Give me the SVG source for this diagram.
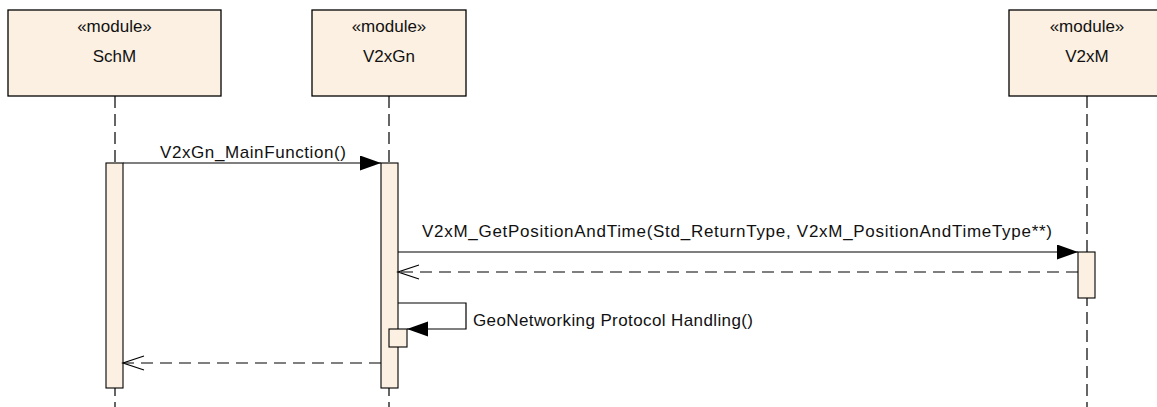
<svg xmlns="http://www.w3.org/2000/svg" width="1157" height="407" viewBox="0 0 1157 407">
<defs>
<style>
.box{fill:#FBF0E2;stroke:#000;stroke-width:1.3}
.act{fill:#FBF0E2;stroke:#000;stroke-width:1.1}
.life{stroke:#000;stroke-width:1.2;stroke-dasharray:12 6;fill:none}
.msg{stroke:#000;stroke-width:1.2;fill:none}
.ret{stroke:#000;stroke-width:1.2;fill:none;stroke-dasharray:12 7}
.t{font-family:"Liberation Sans",Arial,sans-serif;font-size:17px;fill:#111}
.c{text-anchor:middle}
</style>
<marker id="filled" markerWidth="22" markerHeight="16" refX="21" refY="7.5" orient="auto" markerUnits="userSpaceOnUse">
<path d="M0,0 L21,7.5 L0,15 Z" fill="#000"/>
</marker>
<marker id="open" markerWidth="24" markerHeight="18" refX="22" refY="8" orient="auto" markerUnits="userSpaceOnUse">
<path d="M1,1 L22,8 L1,15" fill="none" stroke="#000" stroke-width="1.2"/>
</marker>
</defs>
<rect width="1157" height="407" fill="#fff"/>

<g id="lifelines">
<line class="life" x1="115" y1="96" x2="115" y2="407"/>
<line class="life" x1="389" y1="96" x2="389" y2="407"/>
<line class="life" x1="1087" y1="96" x2="1087" y2="407"/>
</g>

<g id="SchM">
<rect class="box" x="8" y="10" width="213" height="86"/>
<text class="t c" x="114.5" y="32">«module»</text>
<text class="t c" x="114.5" y="62">SchM</text>
<rect class="act" x="106" y="163" width="17" height="225"/>
</g>

<g id="V2xGn">
<rect class="box" x="312" y="10" width="154" height="86"/>
<text class="t c" x="389" y="32">«module»</text>
<text class="t c" x="389" y="62">V2xGn</text>
<rect class="act" x="381" y="163" width="17" height="225"/>
<rect class="act" x="389" y="329" width="18" height="18"/>
</g>

<g id="V2xM">
<rect class="box" x="1009" y="10" width="156" height="86"/>
<text class="t c" x="1087" y="32">«module»</text>
<text class="t c" x="1087" y="62">V2xM</text>
<rect class="act" x="1078" y="252" width="17" height="46"/>
</g>

<g id="connectors">
<line class="msg" x1="123" y1="163" x2="381" y2="163" marker-end="url(#filled)"/>
<text class="t" x="160" y="158" textLength="186" lengthAdjust="spacing">V2xGn_MainFunction()</text>
<line class="msg" x1="398" y1="252" x2="1078" y2="252" marker-end="url(#filled)"/>
<text class="t" x="422" y="237" textLength="630" lengthAdjust="spacing">V2xM_GetPositionAndTime(Std_ReturnType, V2xM_PositionAndTimeType**)</text>
<line class="ret" x1="1078" y1="272" x2="398" y2="272" marker-end="url(#open)"/>
<polyline class="msg" points="398,303 466,303 466,329 407,329" marker-end="url(#filled)"/>
<text class="t" x="473" y="326" textLength="280" lengthAdjust="spacing">GeoNetworking Protocol Handling()</text>
<line class="ret" x1="381" y1="363" x2="123" y2="363" marker-end="url(#open)"/>
</g>
</svg>
